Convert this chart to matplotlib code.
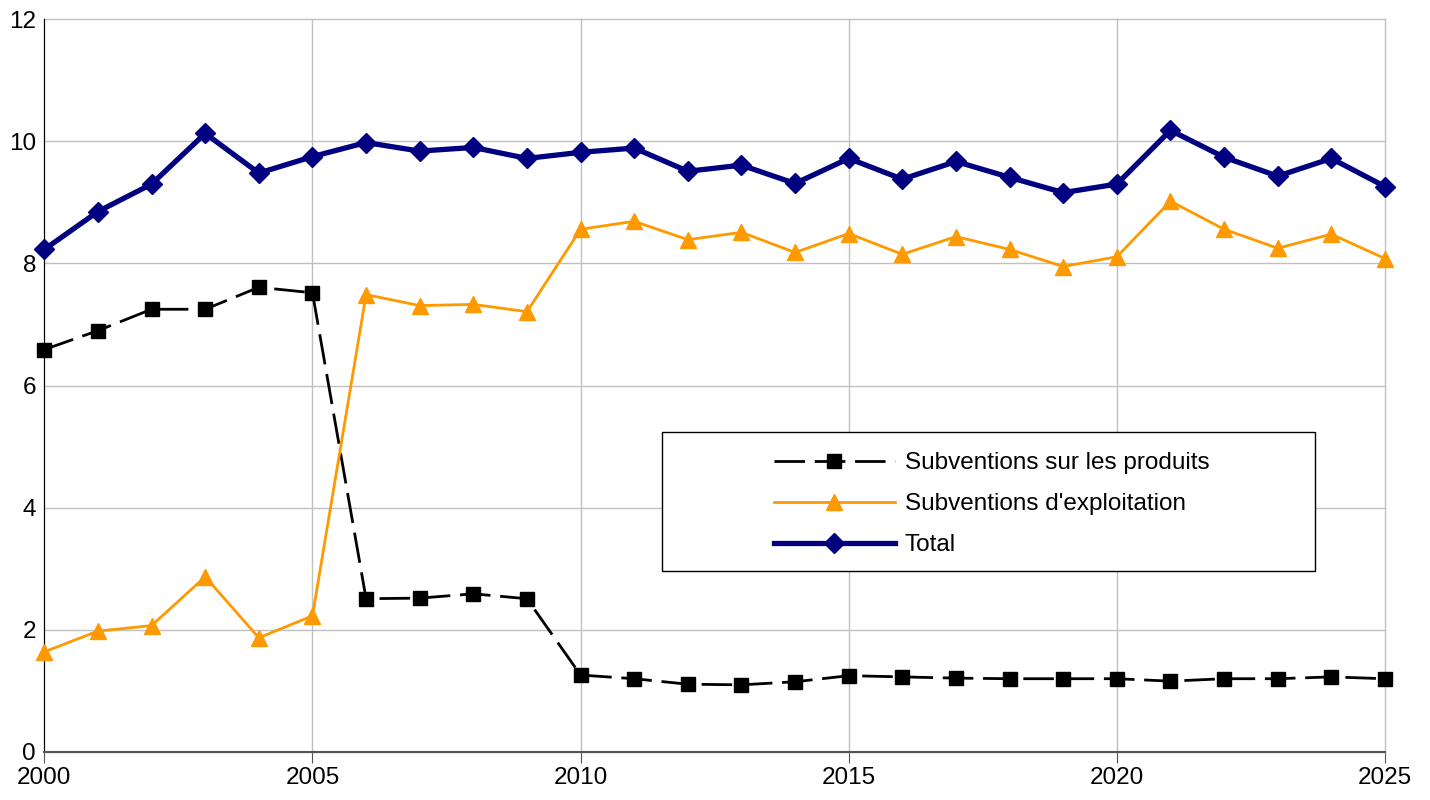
import matplotlib.pyplot as plt
from matplotlib.patches import Rectangle
import numpy as np

plt.rcParams['font.family'] = ['Liberation Sans', 'DejaVu Sans']

years = np.arange(2000, 2026)

produits = [6.59, 6.90, 7.25, 7.25, 7.61, 7.52, 2.51, 2.52, 2.59, 2.51,
            1.26, 1.20, 1.11, 1.10, 1.15, 1.25, 1.23, 1.21, 1.20, 1.20,
            1.20, 1.16, 1.20, 1.20, 1.23, 1.20]

exploitation = [1.64, 1.98, 2.07, 2.87, 1.87, 2.23, 7.49, 7.31, 7.33, 7.21,
                8.56, 8.69, 8.39, 8.51, 8.18, 8.49, 8.15, 8.44, 8.23, 7.95,
                8.11, 9.02, 8.56, 8.25, 8.48, 8.08]

total = [8.23, 8.85, 9.30, 10.13, 9.48, 9.75, 9.98, 9.84, 9.90, 9.72,
         9.82, 9.89, 9.51, 9.61, 9.31, 9.72, 9.38, 9.67, 9.41, 9.16,
         9.30, 10.18, 9.74, 9.43, 9.72, 9.26]

labels = ["Subventions sur les produits", "Subventions d'exploitation", "Total"]

fig = plt.figure(figsize=(14.3, 8), dpi=100)
ax = fig.add_axes([0.031, 0.06, 0.9375, 0.916])

ax.plot(years, produits, color="black", linewidth=2, dashes=(11, 3.5),
        marker="s", markersize=10, label=labels[0], clip_on=False, zorder=3)
ax.plot(years, exploitation, color="#ff9900", linewidth=2,
        marker="^", markersize=11, label=labels[1], clip_on=False, zorder=3)
ax.plot(years, total, color="#000080", linewidth=3.8,
        marker="D", markersize=10, label=labels[2], clip_on=False, zorder=4)

ax.set_xlim(2000, 2025)
ax.set_ylim(0, 12)
ax.set_xticks(np.arange(2000, 2026, 5))
ax.set_yticks(np.arange(0, 13, 2))
ax.grid(True, color="#c0c0c0", linewidth=1)
ax.set_axisbelow(True)
for gl in ax.get_xgridlines() + ax.get_ygridlines():
    gl.set_clip_on(False)

for side in ["top", "right"]:
    ax.spines[side].set_visible(False)
ax.spines["left"].set_color("black")
ax.spines["bottom"].set_color("#555555")
ax.spines["bottom"].set_linewidth(1.5)

ax.tick_params(axis="x", labelsize=17.5, length=8, color="#555555", pad=3)
ax.tick_params(axis="y", labelsize=17.5, length=0, pad=6)

# legend frame drawn separately, entries sit centred inside it
ax.add_patch(Rectangle((0.4605, 0.247), 0.4875, 0.19, transform=ax.transAxes,
                       facecolor="white", edgecolor="black", linewidth=1,
                       zorder=5))
leg = ax.legend(loc="center left", bbox_to_anchor=(0.544, 0.338),
                fontsize=17.5, frameon=False, handlelength=5.0,
                handletextpad=0.4, labelspacing=0.78, borderpad=0,
                borderaxespad=0)
leg.set_zorder(6)

fig.savefig("out.png", dpi=100)
